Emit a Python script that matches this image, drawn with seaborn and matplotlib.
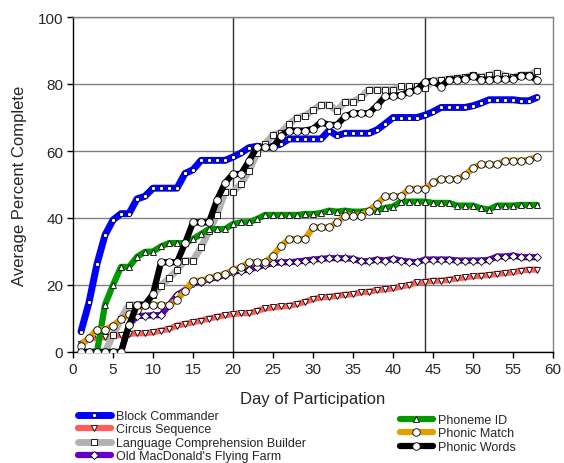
import matplotlib
matplotlib.use('Agg')
import matplotlib.pyplot as plt
import seaborn as sns
import pandas as pd

sns.set_style("white")
plt.rcParams['font.family'] = ['Liberation Sans', 'DejaVu Sans']

# Data
days = list(range(1, 59))

block_commander = [6.1, 14.8, 26.3, 34.9, 39.4, 41.3, 41.3, 45.7, 46.5, 48.9,
                   48.9, 48.9, 48.9, 53.3, 54.4, 57.2, 57.2, 57.2, 57.2, 58.2,
                   59.4, 61.0, 61.4, 61.3, 61.4, 62.1, 63.6, 63.6, 63.6, 63.6,
                   63.6, 66.1, 64.6, 65.3, 65.3, 65.3, 65.3, 66.3, 68.1, 70.0,
                   70.0, 70.0, 70.0, 70.7, 71.7, 73.0, 73.0, 73.0, 73.0, 73.5,
                   74.3, 75.3, 75.3, 75.3, 75.3, 75.0, 75.0, 76.0]
circus_sequence = [2.5, 3.9, 4.4, 4.4, 4.9, 5.1, 5.4, 5.6, 5.6, 5.9,
                   6.4, 6.9, 7.9, 8.4, 8.9, 9.4, 10.0, 10.5, 11.0, 11.3,
                   11.6, 11.6, 12.3, 13.0, 13.3, 13.6, 13.8, 14.3, 15.0, 15.8,
                   16.3, 16.5, 16.8, 17.1, 17.3, 17.8, 18.0, 18.5, 18.7, 19.0,
                   19.6, 20.0, 20.8, 21.0, 21.3, 21.3, 21.6, 22.0, 22.3, 22.6,
                   22.8, 23.0, 23.3, 23.6, 23.8, 24.3, 24.6, 24.6]
language_builder = [0, 0, 0, 0, 5, 10, 14.1, 14.1, 14.1, 17.0,
                    19.8, 22.0, 24.5, 27.3, 27.3, 31.2, 36.0, 41.0, 47.8, 47.8,
                    50.1, 54.1, 59.4, 62.0, 64.8, 65.5, 68.0, 70.0, 70.5, 72.2,
                    73.8, 73.8, 72.0, 74.7, 74.7, 76.0, 78.3, 78.3, 78.3, 78.3,
                    79.3, 79.3, 79.3, 78.7, 81.0, 81.2, 81.5, 81.8, 82.0, 82.7,
                    82.0, 82.7, 83.3, 82.5, 82.0, 82.7, 82.7, 83.8]
old_macdonald = [0, 0, 0, 0, 0, 0, 8.0, 10.8, 10.8, 11.0,
                 11.0, 14.0, 17.0, 18.5, 20.5, 21.0, 21.8, 22.3, 23.0, 24.0,
                 24.3, 24.6, 25.3, 26.0, 26.5, 26.8, 26.8, 27.0, 27.3, 27.6,
                 27.8, 28.0, 28.0, 28.0, 27.8, 27.1, 27.1, 27.6, 27.3, 27.8,
                 27.3, 27.0, 26.8, 27.6, 27.6, 27.6, 27.6, 27.3, 27.3, 27.3,
                 27.3, 27.5, 28.5, 28.5, 28.8, 28.3, 28.3, 28.3]
phoneme_id = [0, 0, 0, 14.1, 20.0, 25.4, 25.4, 28.4, 29.9, 30.0,
              31.5, 32.5, 32.5, 32.5, 33.7, 35.2, 36.7, 36.7, 36.7, 38.2,
              38.7, 38.7, 39.7, 40.9, 40.9, 40.9, 40.9, 40.9, 41.2, 41.2,
              41.5, 42.2, 41.9, 42.2, 41.9, 41.9, 42.2, 42.2, 43.0, 43.4,
              44.9, 44.9, 44.9, 44.9, 44.5, 44.5, 44.5, 43.7, 43.7, 43.7,
              42.9, 42.5, 43.7, 43.7, 43.7, 43.9, 43.9, 43.9]
phonic_match = [1.9, 4.2, 6.7, 6.7, 7.9, 9.8, 11.2, 12.5, 14.0, 14.0,
                14.0, 14.0, 15.5, 18.3, 21.3, 21.3, 22.0, 22.8, 23.3, 24.5,
                25.3, 26.8, 26.8, 26.8, 28.8, 31.7, 33.7, 33.7, 33.7, 37.2,
                37.2, 37.2, 38.7, 40.7, 40.7, 40.7, 42.2, 44.2, 46.5, 46.5,
                46.5, 48.7, 48.7, 48.7, 50.6, 51.6, 51.6, 51.6, 52.8, 55.0,
                56.0, 56.0, 56.0, 57.1, 57.1, 57.1, 57.3, 58.3]
phonic_words = [0, 0, 0, 0, 0, 0, 8.0, 14.1, 14.1, 17.3,
                26.8, 26.8, 26.8, 32.4, 38.7, 38.7, 38.7, 45.4, 50.4, 53.2,
                53.1, 57.1, 61.1, 61.1, 61.1, 64.6, 66.1, 66.1, 66.1, 66.6,
                68.6, 67.8, 67.8, 70.3, 71.3, 71.3, 71.3, 73.5, 76.3, 76.5,
                76.7, 77.7, 78.3, 80.7, 80.9, 79.2, 81.3, 81.3, 81.5, 82.5,
                81.3, 81.3, 81.5, 81.5, 81.5, 82.5, 82.5, 81.3]

series = [
    ("Block Commander", block_commander, "#0000FF", "o", 3.0, 5.0),
    ("Circus Sequence", circus_sequence, "#FF5C5C", "v", 4.0, 4.5),
    ("Language Comprehension Builder", language_builder, "#B3B3B3", "s", 4.3, 5.0),
    ("Old MacDonald's Flying Farm", old_macdonald, "#6600CC", "D", 4.3, 4.5),
    ("Phoneme ID", phoneme_id, "#009900", "^", 4.8, 4.5),
    ("Phonic Match", phonic_match, "#E0A000", "o", 5.4, 4.5),
    ("Phonic Words", phonic_words, "#000000", "o", 5.4, 4.5),
]

fig = plt.figure(figsize=(5.64, 4.64), dpi=100)
ax = fig.add_axes([73 / 564, 1 - 353 / 464, 480 / 564, 335 / 464])

# Gridlines and phase markers
ax.set_axisbelow(True)
ax.yaxis.grid(True, color='#808080', linewidth=1)
for xv in (20, 44):
    ax.axvline(xv, color='#303030', linewidth=1, zorder=1)

for name, vals, col, mk, ms, lw in series:
    df = pd.DataFrame({'day': days, 'pct': vals})
    sns.lineplot(data=df, x='day', y='pct', ax=ax, color=col, linewidth=lw,
                 marker=mk, markersize=ms, markerfacecolor='white',
                 markeredgecolor='black', markeredgewidth=0.6, label=name,
                 zorder=3)

handles, labels = ax.get_legend_handles_labels()
if ax.get_legend() is not None:
    ax.get_legend().remove()

ax.set_xlim(0, 60)
ax.set_ylim(0, 100)
ax.set_xticks(range(0, 61, 5))
ax.set_yticks(range(0, 101, 20))
ax.tick_params(axis='both', labelsize=11, direction='out', length=4,
               width=1, color='black', pad=3)
ax.tick_params(axis='x', bottom=True)
ax.tick_params(axis='y', left=True)

ax.set_xlabel('Day of Participation', fontsize=12, labelpad=11)
ax.set_ylabel('Average Percent Complete', fontsize=12, labelpad=8)

for s in ['left', 'bottom']:
    ax.spines[s].set_color('black')
    ax.spines[s].set_linewidth(1)
for s in ['top', 'right']:
    ax.spines[s].set_color('#808080')
    ax.spines[s].set_linewidth(1)

leg_kw = dict(frameon=False, fontsize=9, handlelength=2.6, handletextpad=0.4,
              labelspacing=0.12, borderpad=0, borderaxespad=0)
fig.legend(handles[:4], labels[:4], loc='upper left',
           bbox_to_anchor=(78 / 564, 1 - 411 / 464), **leg_kw)
fig.legend(handles[4:], labels[4:], loc='upper left',
           bbox_to_anchor=(400 / 564, 1 - 415 / 464), **leg_kw)

fig.savefig('out.png', dpi=100)
